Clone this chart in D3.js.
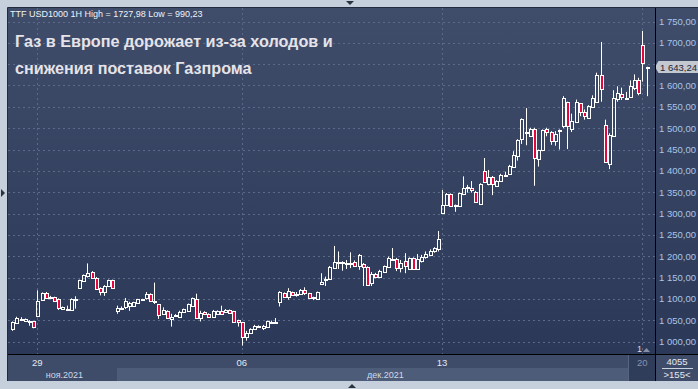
<!DOCTYPE html>
<html>
<head>
<meta charset="utf-8">
<script src="https://cdn.jsdelivr.net/npm/d3@7"></script>
<style>
  html, body { margin: 0; padding: 0; background: #c6d0dc; }
  svg { display: block; font-family: "Liberation Sans", Arial, sans-serif; }
</style>
</head>
<body>
<div id="chart"></div>
<script>
// hourly TTF candles, 26 Nov - 20 Dec 2021
const opens = [1029,1043,1052,1048,1049,1047,1059,1098,1113,1105,1104,1100,1076,1076,1074,1099,1126,1142,1153,1163,
  1150,1126,1115,1129,1143,1072,1078,1080,1084,1083,1091,1098,1102,1112,1096,1087,1065,1072,1053,1062,
  1057,1070,1072,1084,1100,1055,1070,1065,1058,1065,1072,1069,1074,1071,1050,1045,1011,1021,1029,1035,
  1031,1035,1045,1045,1093,1113,1105,1116,1110,1111,1121,1113,1103,1100,1134,1144,1147,1173,1185,1185,
  1182,1183,1187,1177,1181,1174,1138,1158,1151,1164,1174,1193,1194,1172,1189,1170,1195,1170,1188,1197,
  1203,1211,1217,1302,1320,1345,1319,1318,1346,1360,1359,1351,1322,1400,1369,1385,1365,1377,1390,1392,
  1410,1434,1474,1490,1482,1497,1428,1448,1497,1492,1470,1494,1505,1561,1498,1515,1558,1537,1525,1550,
  1562,1624,1507,1415,1482,1568,1581,1569,1572,1593,1614,1696,1641];
const highs = [1047,1058,1057,1054,1050,1048,1120,1115,1116,1107,1105,1101,1082,1084,1101,1106,1145,1157,1183,1165,
  1151,1127,1132,1145,1145,1084,1082,1102,1093,1093,1100,1100,1116,1113,1138,1088,1080,1073,1065,1064,
  1072,1077,1089,1103,1112,1072,1071,1066,1074,1073,1084,1076,1075,1072,1051,1046,1025,1031,1039,1038,
  1039,1049,1049,1055,1118,1115,1125,1117,1116,1123,1127,1114,1105,1117,1160,1152,1177,1224,1211,1188,
  1191,1209,1190,1205,1184,1176,1163,1161,1168,1178,1199,1219,1196,1191,1207,1197,1197,1205,1203,1211,
  1216,1221,1259,1355,1348,1347,1321,1349,1387,1367,1376,1353,1371,1430,1402,1388,1378,1393,1398,1414,
  1446,1474,1523,1547,1501,1501,1450,1497,1501,1493,1493,1497,1575,1562,1534,1567,1559,1544,1554,1577,
  1630,1702,1520,1488,1589,1598,1595,1585,1612,1626,1618,1727.98,1644];
const lows = [1025,1041,1049,1047,1037,1031,1057,1096,1100,1099,1094,1074,1074,1072,1073,1077,1124,1140,1150,1148,
  1122,1108,1107,1128,1124,1065,1076,1076,1072,1081,1089,1097,1098,1094,1088,1053,1063,1053,1035,1059,
  1055,1069,1071,1083,1055,1047,1064,1057,1057,1064,1063,1068,1065,1045,1035,990.23,1002,1019,1027,1034,
  1027,1034,1043,1041,1082,1102,1098,1108,1105,1109,1109,1100,1097,1098,1134,1130,1147,1172,1170,1166,
  1170,1172,1175,1168,1130,1131,1130,1148,1150,1163,1173,1191,1165,1162,1160,1168,1168,1168,1185,1194,
  1200,1208,1211,1300,1318,1316,1304,1315,1343,1349,1349,1325,1320,1373,1366,1343,1363,1374,1386,1391,
  1409,1424,1463,1460,1480,1365,1410,1446,1481,1461,1459,1450,1500,1451,1491,1513,1528,1520,1524,1548,
  1559,1562,1421,1404,1482,1562,1566,1566,1571,1589,1577,1609,1575];
const closes = [1045,1055,1053,1053,1045,1035,1096,1113,1102,1102,1096,1079,1080,1077,1100,1100,1143,1155,1161,1150,
  1124,1116,1129,1143,1126,1079,1079,1094,1091,1092,1099,1099,1112,1095,1094,1063,1075,1055,1058,1062,
  1070,1076,1088,1101,1055,1067,1065,1058,1071,1072,1065,1074,1066,1046,1045,1011,1019,1030,1037,1036,
  1037,1048,1046,1046,1116,1104,1119,1110,1111,1121,1113,1102,1104,1115,1140,1146,1174,1186,1186,1186,
  1184,1184,1177,1203,1174,1133,1158,1152,1166,1177,1195,1194,1172,1185,1178,1195,1170,1193,1199,1205,
  1213,1220,1240,1321,1346,1318,1320,1347,1359,1361,1354,1327,1369,1375,1385,1369,1376,1391,1391,1412,
  1436,1473,1521,1491,1499,1430,1448,1495,1492,1470,1487,1495,1570,1504,1516,1562,1537,1529,1552,1570,
  1624,1591,1421,1484,1570,1583,1572,1570,1598,1614,1583,1653,1643.24];

const priceTicks = [1000,1050,1100,1150,1200,1250,1300,1350,1400,1450,1500,1550,1600,1650,1700,1750];
const dayLabels = ["29", "06", "13", "20"];
const dayIndex = [6, 55, 103, 151];
const monthLabels = ["ноя.2021", "дек.2021"];
const monthIndex = [8, 85];
const lastPrice = 1643.24;
const headerText = "TTF USD1000 1H High = 1727,98 Low = 990,23";
const titleLines = ["Газ в Европе дорожает из-за холодов и", "снижения поставок Газпрома"];

const candles = opens.map((o, i) => ({ i, o, h: highs[i], l: lows[i], c: closes[i] }));

const width = 698, height = 389;
const plot = { left: 8, top: 8, right: 655, bottom: 354 };
const axisBottom = 381;

const ru = d3.formatLocale({ decimal: ",", thousands: " ", grouping: [3], currency: ["", ""] });
const fmt = ru.format(",.2f");

const x = d3.scaleLinear().domain([0, candles.length - 1]).range([12.3, 646.5]);
const y = d3.scaleLinear().domain([1000, 1750]).range([341.5, 21.5]);
const px = (v) => Math.round(v) + 0.5;
const ly = y(lastPrice);

const svg = d3.select("#chart").append("svg").attr("width", width).attr("height", height);

const grad = svg.append("defs").append("linearGradient")
  .attr("id", "bg").attr("x1", 0).attr("y1", 0).attr("x2", 0).attr("y2", 1);
grad.append("stop").attr("offset", "0%").attr("stop-color", "#3f4d6b");
grad.append("stop").attr("offset", "100%").attr("stop-color", "#2b3857");

// frame
svg.append("rect").attr("width", width).attr("height", height).attr("fill", "#c6d0dc");
svg.append("rect").attr("x", plot.left).attr("y", plot.top)
  .attr("width", width - plot.left).attr("height", plot.bottom - plot.top).attr("fill", "url(#bg)");
svg.append("path").attr("d", `M${plot.left - 0.5},${axisBottom}V${plot.top - 0.5}H${width}`)
  .attr("fill", "none").attr("stroke", "#222b3d");

// bottom strip
svg.append("rect").attr("x", plot.left).attr("y", plot.bottom).attr("width", width - plot.left)
  .attr("height", axisBottom - plot.bottom).attr("fill", "#3e4c6a");
svg.append("rect").attr("x", 117).attr("y", 368).attr("width", 511).attr("height", axisBottom - 368)
  .attr("fill", "#4d5c79");
svg.append("rect").attr("x", 628).attr("y", plot.bottom).attr("width", plot.right - 628)
  .attr("height", axisBottom - plot.bottom).attr("fill", "#2f3c5a");
svg.append("line").attr("x1", 628.5).attr("x2", 628.5).attr("y1", plot.bottom).attr("y2", axisBottom)
  .attr("stroke", "#56647f");

// grid
const grid = svg.append("g").attr("stroke", "#5a6a8a").attr("stroke-dasharray", "2,3");
grid.selectAll(".h").data(priceTicks).join("line")
  .attr("x1", plot.left).attr("x2", plot.right)
  .attr("y1", (d) => px(y(d))).attr("y2", (d) => px(y(d)));
grid.selectAll(".v").data(dayIndex).join("line")
  .attr("y1", plot.top).attr("y2", plot.bottom)
  .attr("x1", (d) => px(x(d))).attr("x2", (d) => px(x(d)));

// candles
const bodyTop = (d) => Math.round(y(Math.max(d.o, d.c))) + 0.5;
const bodyBot = (d) => Math.max(Math.round(y(Math.min(d.o, d.c))) + 0.5, bodyTop(d) + 1);
const cg = svg.append("g");
cg.selectAll(".wick").data(candles).join("path")
  .attr("d", (d) => {
    const cx = Math.round(x(d.i)) + 0.5;
    return `M${cx},${y(d.h)}V${bodyTop(d)}M${cx},${bodyBot(d)}V${y(d.l)}`;
  })
  .attr("stroke", "#ffffff").attr("stroke-width", 1).attr("fill", "none");
cg.selectAll(".body").data(candles).join("rect")
  .attr("x", (d) => Math.round(x(d.i)) - 0.5)
  .attr("y", bodyTop)
  .attr("width", 3)
  .attr("height", (d) => bodyBot(d) - bodyTop(d))
  .attr("fill", (d) => (d.c < d.o ? "#e3063f" : "none"))
  .attr("stroke", "#ffffff").attr("stroke-width", 1);

// price axis (the label under the last-price box is hidden)
svg.append("g").selectAll("text").data(priceTicks.filter((d) => Math.abs(y(d) - ly) > 8)).join("text")
  .attr("x", 659).attr("y", (d) => y(d) + 3.5)
  .attr("fill", "#a9c4e8").style("font-size", "9.5px")
  .text((d) => fmt(d));

svg.append("path")
  .attr("d", `M655,${ly}L658.5,${ly - 6}H${width}V${ly + 6}H658.5Z`)
  .attr("fill", "#c4c8d0");
svg.append("text").attr("x", 660).attr("y", ly + 3.5)
  .attr("fill", "#1e2633").style("font-size", "9.5px").text(fmt(lastPrice));

// separators
svg.append("line").attr("x1", plot.left).attr("x2", width).attr("y1", plot.bottom + 0.5).attr("y2", plot.bottom + 0.5)
  .attr("stroke", "#000");
svg.append("line").attr("x1", plot.right + 0.5).attr("x2", plot.right + 0.5).attr("y1", plot.top).attr("y2", axisBottom)
  .attr("stroke", "#000");

// time axis
svg.append("g").selectAll("text").data(dayLabels).join("text")
  .attr("x", (d, i) => x(dayIndex[i])).attr("y", 366)
  .attr("text-anchor", "middle").style("font-size", "9.5px")
  .attr("fill", (d, i) => (i === dayLabels.length - 1 ? "#8694ad" : "#e2e9f3"))
  .text((d) => d);
svg.append("g").selectAll("text").data(monthLabels).join("text")
  .attr("x", (d, i) => x(monthIndex[i])).attr("y", 378)
  .style("font-size", "9px").attr("fill", "#cfd9e8")
  .text((d) => d);

svg.append("text").attr("x", 637).attr("y", 352).style("font-size", "9px").attr("fill", "#d5dce6").text("1");
svg.append("path").attr("d", "M643,352L650,352L646.5,348Z").attr("fill", "#8391a8");

// bar counter
svg.append("text").attr("x", 677).attr("y", 365).attr("text-anchor", "middle")
  .style("font-size", "9.5px").attr("fill", "#e2e9f3").text("4055");
svg.append("line").attr("x1", 662).attr("x2", 693).attr("y1", 368.5).attr("y2", 368.5).attr("stroke", "#c8d2e0");
svg.append("text").attr("x", 677).attr("y", 378).attr("text-anchor", "middle")
  .style("font-size", "9.5px").attr("fill", "#e2e9f3").text(">155<");

// header and title
svg.append("text").attr("x", 10).attr("y", 17).style("font-size", "9px").attr("fill", "#eef2f8").text(headerText);
svg.append("g").selectAll("text").data(titleLines).join("text")
  .attr("x", 15).attr("y", (d, i) => 47 + i * 27)
  .style("font-size", "16.2px").style("font-weight", "bold").attr("fill", "#e6e3e8")
  .text((d) => d);

// scroll arrows
svg.append("path").attr("d", "M346,1L354,1L350,5Z").attr("fill", "#2a3242");
svg.append("path").attr("d", "M1,189L5,193L1,197Z").attr("fill", "#2a3242");
svg.append("path").attr("d", "M348,388L356,388L352,384Z").attr("fill", "#2a3242");
</script>
</body>
</html>
